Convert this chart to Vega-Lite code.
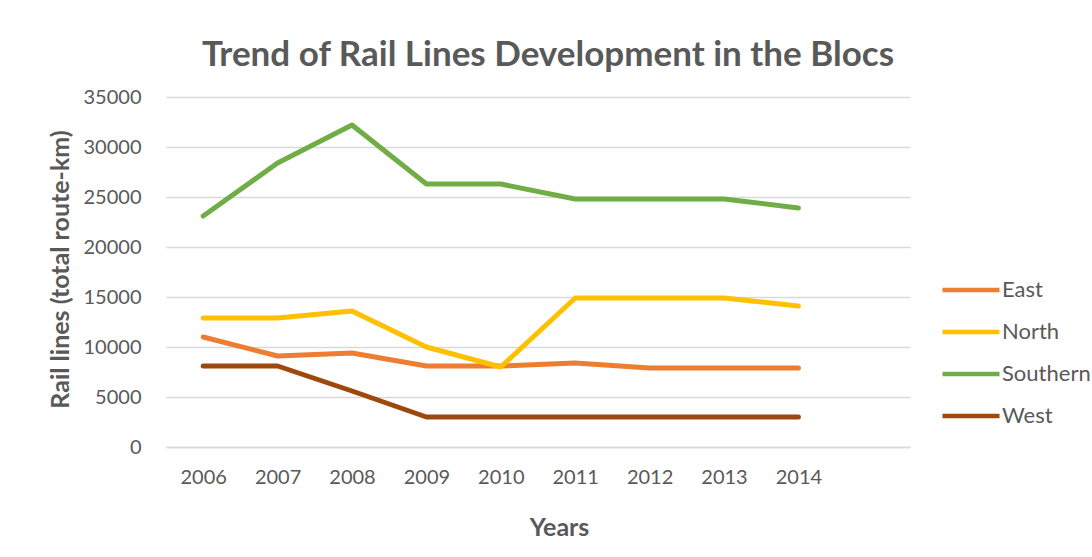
{
  "$schema": "https://vega.github.io/schema/vega-lite/v6.json",
  "autosize": {"type": "none"},
  "padding": {"left": 166, "top": 97, "right": 182, "bottom": 110},
  "width": 744,
  "height": 350,
  "background": "white",
  "title": {
    "text": "Trend of Rail Lines Development in the Blocs",
    "font": "Lato",
    "fontSize": 35,
    "fontWeight": "bold",
    "color": "#595959",
    "anchor": "middle",
    "dx": 10,
    "offset": 14
  },
  "data": {
    "values": [
      {"year": 2006, "bloc": "East", "km": 11000},
      {"year": 2007, "bloc": "East", "km": 9100},
      {"year": 2008, "bloc": "East", "km": 9400},
      {"year": 2009, "bloc": "East", "km": 8100},
      {"year": 2010, "bloc": "East", "km": 8100},
      {"year": 2011, "bloc": "East", "km": 8400},
      {"year": 2012, "bloc": "East", "km": 7900},
      {"year": 2013, "bloc": "East", "km": 7900},
      {"year": 2014, "bloc": "East", "km": 7900},
      {"year": 2006, "bloc": "North", "km": 12900},
      {"year": 2007, "bloc": "North", "km": 12900},
      {"year": 2008, "bloc": "North", "km": 13600},
      {"year": 2009, "bloc": "North", "km": 10000},
      {"year": 2010, "bloc": "North", "km": 8000},
      {"year": 2011, "bloc": "North", "km": 14900},
      {"year": 2012, "bloc": "North", "km": 14900},
      {"year": 2013, "bloc": "North", "km": 14900},
      {"year": 2014, "bloc": "North", "km": 14100},
      {"year": 2006, "bloc": "Southern", "km": 23100},
      {"year": 2007, "bloc": "Southern", "km": 28400},
      {"year": 2008, "bloc": "Southern", "km": 32200},
      {"year": 2009, "bloc": "Southern", "km": 26300},
      {"year": 2010, "bloc": "Southern", "km": 26300},
      {"year": 2011, "bloc": "Southern", "km": 24800},
      {"year": 2012, "bloc": "Southern", "km": 24800},
      {"year": 2013, "bloc": "Southern", "km": 24800},
      {"year": 2014, "bloc": "Southern", "km": 23900},
      {"year": 2006, "bloc": "West", "km": 8100},
      {"year": 2007, "bloc": "West", "km": 8100},
      {"year": 2008, "bloc": "West", "km": 5600},
      {"year": 2009, "bloc": "West", "km": 3000},
      {"year": 2010, "bloc": "West", "km": 3000},
      {"year": 2011, "bloc": "West", "km": 3000},
      {"year": 2012, "bloc": "West", "km": 3000},
      {"year": 2013, "bloc": "West", "km": 3000},
      {"year": 2014, "bloc": "West", "km": 3000}
    ]
  },
  "mark": {"type": "line", "strokeWidth": 5, "strokeCap": "round", "strokeJoin": "round"},
  "encoding": {
    "x": {
      "field": "year",
      "type": "quantitative",
      "scale": {"domain": [2005.5, 2015.5], "nice": false, "zero": false},
      "axis": {
        "values": [2006, 2007, 2008, 2009, 2010, 2011, 2012, 2013, 2014],
        "format": "d",
        "grid": false,
        "ticks": false,
        "domainColor": "#D9D9D9",
        "domainWidth": 1.5,
        "labelFont": "Lato",
        "labelFontSize": 20,
        "labelColor": "#595959",
        "labelPadding": 20,
        "labelFlush": false,
        "title": "Years",
        "titleFont": "Lato",
        "titleFontSize": 25,
        "titleFontWeight": "bold",
        "titleColor": "#595959",
        "titleX": 393,
        "titleY": 88,
        "titleAlign": "center",
        "titleBaseline": "alphabetic"
      }
    },
    "y": {
      "field": "km",
      "type": "quantitative",
      "scale": {"domain": [0, 35000], "nice": false},
      "axis": {
        "values": [0, 5000, 10000, 15000, 20000, 25000, 30000, 35000],
        "format": "d",
        "grid": true,
        "gridColor": "#D9D9D9",
        "gridWidth": 1.5,
        "domain": false,
        "ticks": false,
        "labelFont": "Lato",
        "labelFontSize": 20,
        "labelColor": "#595959",
        "labelPadding": 25,
        "title": "Rail lines (total route-km)",
        "titleFont": "Lato",
        "titleFontSize": 25,
        "titleFontWeight": "bold",
        "titleColor": "#595959",
        "titleAngle": -90,
        "titleX": -106,
        "titleY": 172,
        "titleAlign": "center",
        "titleBaseline": "middle"
      }
    },
    "color": {
      "field": "bloc",
      "type": "nominal",
      "scale": {
        "domain": ["East", "North", "Southern", "West"],
        "range": ["#ED7D31", "#FFC000", "#70AD47", "#9E480E"]
      },
      "legend": {
        "title": null,
        "orient": "none",
        "legendX": 774,
        "legendY": 162,
        "symbolType": "stroke",
        "symbolSize": 3249,
        "symbolStrokeWidth": 4.5,
        "labelFont": "Lato",
        "labelFontSize": 22,
        "labelColor": "#595959",
        "labelOffset": 0,
        "rowPadding": 0,
        "padding": 0
      }
    }
  },
  "config": {"view": {"stroke": null}}
}
